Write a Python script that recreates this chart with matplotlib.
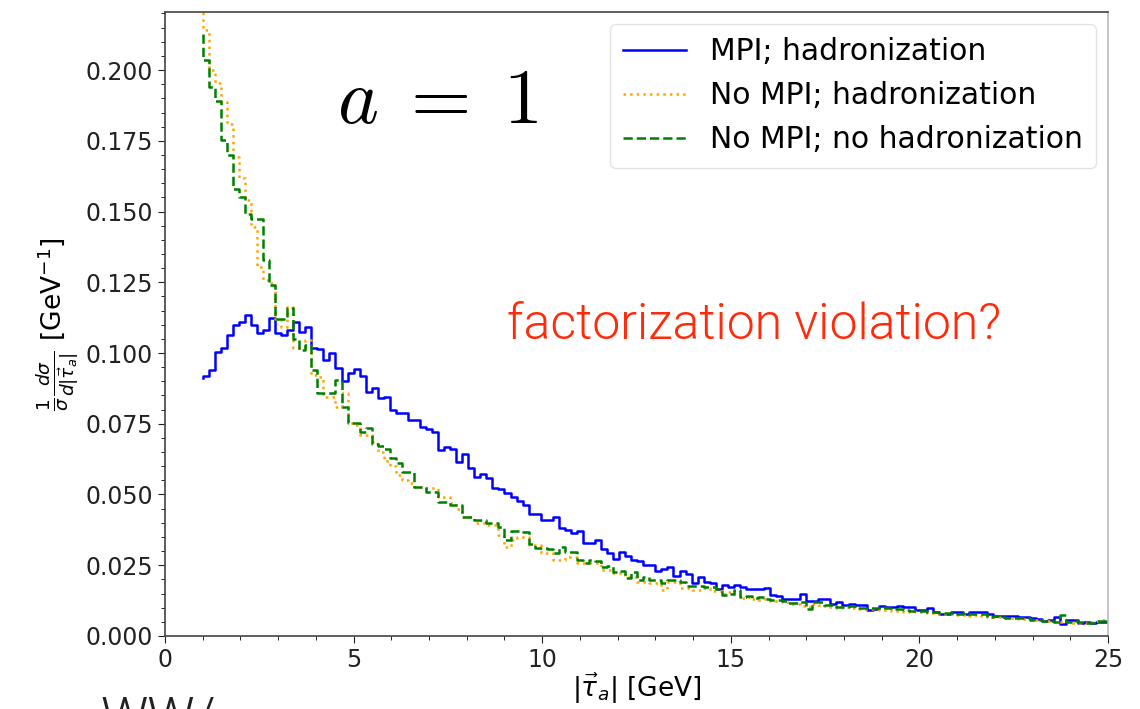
import numpy as np
import matplotlib
matplotlib.use("Agg")
import matplotlib.pyplot as plt
from matplotlib.ticker import MultipleLocator

# bin edges of |tau_a| in GeV (150 bins from 1 to 25)
tau_edges = np.linspace(1.0, 25.0, 151)

# first value = start point of the step curve, then one value per bin
mpi_had = [0.0912,
    0.0920, 0.0940, 0.1005, 0.1017, 0.1064, 0.1100, 0.1111, 0.1134, 0.1100, 0.1070,
    0.1082, 0.1123, 0.1070, 0.1064, 0.1082, 0.1111, 0.1076, 0.1093, 0.1017, 0.1014,
    0.0975, 0.1001, 0.0946, 0.0902, 0.0928, 0.0943, 0.0919, 0.0863, 0.0877, 0.0840,
    0.0846, 0.0800, 0.0788, 0.0788, 0.0763, 0.0763, 0.0737, 0.0731, 0.0722, 0.0657,
    0.0669, 0.0660, 0.0616, 0.0642, 0.0592, 0.0561, 0.0571, 0.0557, 0.0524, 0.0518,
    0.0504, 0.0492, 0.0478, 0.0463, 0.0431, 0.0431, 0.0410, 0.0410, 0.0422, 0.0380,
    0.0375, 0.0365, 0.0371, 0.0328, 0.0328, 0.0339, 0.0306, 0.0294, 0.0271, 0.0298,
    0.0283, 0.0269, 0.0266, 0.0251, 0.0251, 0.0230, 0.0236, 0.0243, 0.0212, 0.0230,
    0.0220, 0.0186, 0.0209, 0.0192, 0.0186, 0.0165, 0.0180, 0.0174, 0.0180, 0.0172,
    0.0166, 0.0166, 0.0166, 0.0171, 0.0145, 0.0140, 0.0131, 0.0131, 0.0131, 0.0147,
    0.0124, 0.0124, 0.0131, 0.0131, 0.0112, 0.0119, 0.0110, 0.0112, 0.0108, 0.0110,
    0.0092, 0.0094, 0.0107, 0.0104, 0.0103, 0.0105, 0.0101, 0.0101, 0.0092, 0.0093,
    0.0100, 0.0083, 0.0078, 0.0079, 0.0083, 0.0083, 0.0078, 0.0086, 0.0086, 0.0085,
    0.0078, 0.0071, 0.0072, 0.0071, 0.0070, 0.0066, 0.0066, 0.0063, 0.0059, 0.0054,
    0.0055, 0.0068, 0.0042, 0.0057, 0.0056, 0.0047, 0.0048, 0.0046, 0.0051, 0.0050]

nompi_had = [0.2350,
    0.2140, 0.2000, 0.1953, 0.1888, 0.1810, 0.1694, 0.1617, 0.1540, 0.1447, 0.1305,
    0.1258, 0.1246, 0.1120, 0.1093, 0.1164, 0.1016, 0.1016, 0.1046, 0.0922, 0.0916,
    0.0846, 0.0846, 0.0810, 0.0857, 0.0751, 0.0746, 0.0710, 0.0710, 0.0687, 0.0650,
    0.0620, 0.0600, 0.0570, 0.0550, 0.0539, 0.0528, 0.0528, 0.0522, 0.0522, 0.0492,
    0.0492, 0.0470, 0.0450, 0.0421, 0.0421, 0.0398, 0.0398, 0.0392, 0.0392, 0.0357,
    0.0316, 0.0339, 0.0351, 0.0351, 0.0320, 0.0320, 0.0292, 0.0292, 0.0268, 0.0268,
    0.0280, 0.0280, 0.0257, 0.0257, 0.0257, 0.0257, 0.0233, 0.0233, 0.0222, 0.0222,
    0.0210, 0.0210, 0.0192, 0.0192, 0.0186, 0.0186, 0.0163, 0.0192, 0.0192, 0.0170,
    0.0170, 0.0163, 0.0163, 0.0168, 0.0160, 0.0158, 0.0150, 0.0155, 0.0148, 0.0135,
    0.0138, 0.0132, 0.0128, 0.0132, 0.0125, 0.0124, 0.0119, 0.0112, 0.0114, 0.0105,
    0.0102, 0.0112, 0.0108, 0.0106, 0.0103, 0.0100, 0.0101, 0.0098, 0.0095, 0.0096,
    0.0094, 0.0096, 0.0093, 0.0091, 0.0090, 0.0088, 0.0086, 0.0087, 0.0084, 0.0083,
    0.0080, 0.0081, 0.0078, 0.0077, 0.0078, 0.0075, 0.0074, 0.0072, 0.0073, 0.0070,
    0.0068, 0.0066, 0.0067, 0.0064, 0.0062, 0.0061, 0.0060, 0.0058, 0.0056, 0.0052,
    0.0053, 0.0050, 0.0049, 0.0050, 0.0047, 0.0046, 0.0047, 0.0050, 0.0052, 0.0055]

nompi_nohad = [0.2128,
    0.2035, 0.1940, 0.1890, 0.1752, 0.1700, 0.1580, 0.1550, 0.1490, 0.1472, 0.1472,
    0.1330, 0.1240, 0.1120, 0.1120, 0.1160, 0.1050, 0.1010, 0.1030, 0.0940, 0.0860,
    0.0860, 0.0860, 0.0905, 0.0810, 0.0754, 0.0754, 0.0722, 0.0735, 0.0680, 0.0670,
    0.0660, 0.0630, 0.0610, 0.0580, 0.0580, 0.0528, 0.0528, 0.0510, 0.0510, 0.0475,
    0.0475, 0.0463, 0.0463, 0.0421, 0.0421, 0.0410, 0.0410, 0.0400, 0.0400, 0.0386,
    0.0339, 0.0370, 0.0370, 0.0368, 0.0325, 0.0310, 0.0312, 0.0308, 0.0292, 0.0315,
    0.0298, 0.0298, 0.0268, 0.0257, 0.0268, 0.0266, 0.0245, 0.0246, 0.0227, 0.0228,
    0.0204, 0.0227, 0.0198, 0.0210, 0.0198, 0.0198, 0.0186, 0.0198, 0.0198, 0.0192,
    0.0175, 0.0176, 0.0175, 0.0174, 0.0174, 0.0165, 0.0145, 0.0150, 0.0163, 0.0137,
    0.0140, 0.0135, 0.0137, 0.0130, 0.0127, 0.0127, 0.0125, 0.0115, 0.0115, 0.0121,
    0.0094, 0.0121, 0.0121, 0.0110, 0.0110, 0.0104, 0.0104, 0.0106, 0.0098, 0.0098,
    0.0099, 0.0100, 0.0101, 0.0098, 0.0094, 0.0094, 0.0092, 0.0089, 0.0089, 0.0088,
    0.0083, 0.0083, 0.0082, 0.0080, 0.0080, 0.0079, 0.0080, 0.0078, 0.0078, 0.0077,
    0.0068, 0.0069, 0.0068, 0.0063, 0.0064, 0.0062, 0.0063, 0.0057, 0.0058, 0.0054,
    0.0054, 0.0051, 0.0073, 0.0051, 0.0052, 0.0049, 0.0045, 0.0045, 0.0054, 0.0054]

labels = ["MPI; hadronization", "No MPI; hadronization", "No MPI; no hadronization"]

plt.rcParams['mathtext.fontset'] = 'dejavusans'
fig = plt.figure(figsize=(11.4, 7.09), dpi=100)
ax = fig.add_axes([0.1447, 0.103, 0.8273, 0.880])

ax.step(tau_edges, mpi_had, where='pre', color='blue', lw=1.8, label=labels[0])
ax.step(tau_edges, nompi_had, where='pre', color='orange', lw=1.8, ls=':', label=labels[1])
ax.step(tau_edges, nompi_nohad, where='pre', color='green', lw=1.8, ls='--', label=labels[2])

ax.set_xlim(0, 25)
ax.set_ylim(0, 0.2205)
ax.set_yticks(np.arange(0, 0.201, 0.025))
ax.xaxis.set_minor_locator(MultipleLocator(1))
ax.yaxis.set_minor_locator(MultipleLocator(0.005))
ax.tick_params(labelsize=17, colors='#222222', length=5)
ax.tick_params(which='minor', length=3)
for s in ax.spines.values():
    s.set_color('#444444')
    s.set_linewidth(1.2)
ax.spines['right'].set_color('#bbbbbb')

ax.set_xlabel(r'$|\vec{\tau}_a|$ [GeV]', fontsize=19, labelpad=0)
ax.set_ylabel(r'$\frac{1}{\sigma}\frac{d\sigma}{d|\vec{\tau}_a|}$ [GeV$^{-1}$]', fontsize=19, labelpad=4)

leg = ax.legend(loc='upper right', fontsize=21.5, frameon=True, borderaxespad=0.4,
                handlelength=2.1, handletextpad=0.8, labelspacing=0.5, borderpad=0.45)
leg.get_frame().set_edgecolor('#dddddd')

fig.text(0.384, 0.858, r'$a\;=\;1$', fontsize=56, ha='center', va='center',
         math_fontfamily='cm')
fig.text(0.661, 0.541, 'factorization violation?', fontsize=36, color='#ff2a0a',
         ha='center', va='center', family=['Roboto', 'DejaVu Sans'], fontweight=300)
fig.text(0.088, -0.036, 'WW/', fontsize=38, color='#222222', va='baseline',
         family=['Roboto', 'DejaVu Sans'], fontweight=300)

fig.savefig('out.png', dpi=100)
